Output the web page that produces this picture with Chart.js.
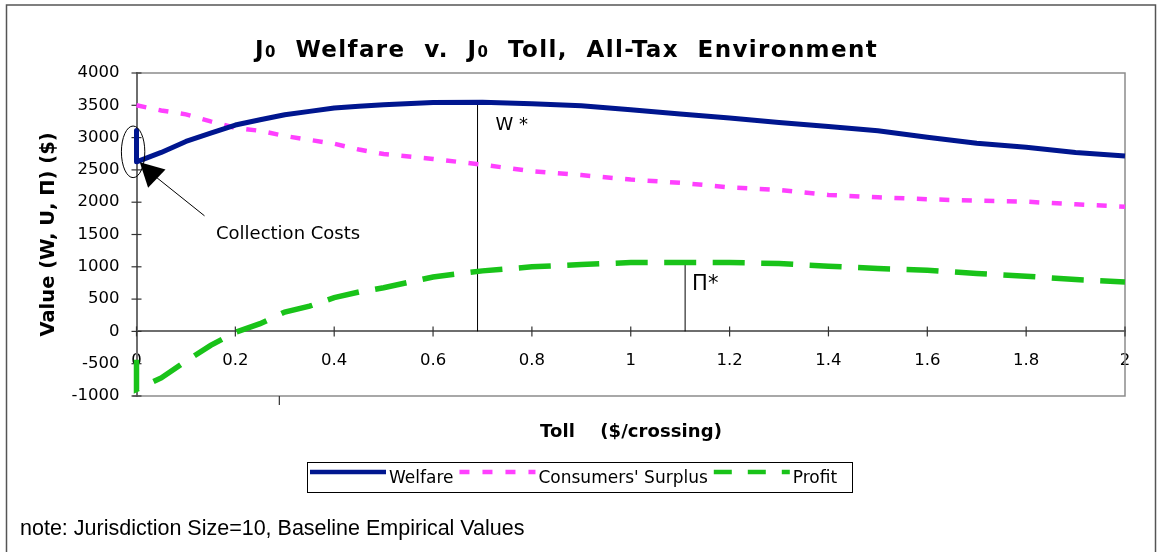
<!DOCTYPE html>
<html>
<head>
<meta charset="utf-8">
<title>J0 Welfare v. J0 Toll, All-Tax Environment</title>
<script src="https://cdn.jsdelivr.net/npm/chart.js@4.4.1/dist/chart.umd.min.js"></script>
<style>
  html, body { margin: 0; padding: 0; background: #fff; }
  #chart { display: block; }
</style>
</head>
<body>
<canvas id="chart" width="1158" height="552"></canvas>
<script>
// Values (toll in $/crossing, values in $)
// x = 0 appears twice: the jump there is the collection-cost drop
const tollValues    = [0, 0, 0.05, 0.1, 0.15, 0.2, 0.25, 0.3, 0.35, 0.4, 0.45, 0.5, 0.6, 0.7, 0.8, 0.9, 1.0, 1.1, 1.2, 1.3, 1.4, 1.5, 1.6, 1.7, 1.8, 1.9, 2.0, 2.025];
const welfareValues = [3110, 2625, 2770, 2940, 3070, 3195, 3276, 3354, 3406, 3457, 3485, 3510, 3545, 3548, 3525, 3494, 3432, 3365, 3303, 3235, 3173, 3106, 3007, 2914, 2852, 2770, 2717, 2691];
const surplusValues = [3500, 3500, 3420, 3360, 3250, 3150, 3105, 3025, 2965, 2905, 2815, 2745, 2670, 2580, 2480, 2420, 2350, 2300, 2230, 2190, 2112, 2076, 2045, 2024, 2008, 1967, 1930, 1925];
const profitValues  = [-440, -900, -720, -460, -217, -15, 119, 300, 390, 523, 610, 675, 843, 937, 999, 1035, 1066, 1068, 1066, 1051, 1009, 973, 947, 896, 854, 803, 766, 766];

const seriesNames = ['Welfare', "Consumers' Surplus", 'Profit'];
const xTickValues = [0, 0.2, 0.4, 0.6, 0.8, 1, 1.2, 1.4, 1.6, 1.8, 2];
const yTickValues = [-1000, -500, 0, 500, 1000, 1500, 2000, 2500, 3000, 3500, 4000];

// Optimum markers
const wStar  = { toll: 0.69, value: 3548 };
const piStar = { toll: 1.11, value: 1068 };

const SANS = '"Liberation Sans", Arial, Helvetica, sans-serif';
const GENEVA = '"DejaVu Sans", Verdana, sans-serif';

function toPoints(values) {
  return values.map((v, i) => ({ x: tollValues[i], y: v }));
}

function line(ctx, x1, y1, x2, y2) {
  ctx.beginPath();
  ctx.moveTo(x1, y1);
  ctx.lineTo(x2, y2);
  ctx.stroke();
}

// draw text runs spread (letter spacing) to a given width
function trackedText(ctx, runs, x, y, width) {
  ctx.letterSpacing = '0px';
  let natural = 0, chars = 0;
  const widths = runs.map(([t, f]) => {
    ctx.font = f;
    const w = ctx.measureText(t).width;
    natural += w;
    chars += t.length;
    return w;
  });
  const sp = (width - natural) / chars;
  ctx.letterSpacing = sp + 'px';
  let cx = x;
  runs.forEach(([t, f], i) => {
    ctx.font = f;
    ctx.fillText(t, cx, y);
    cx += widths[i] + sp * t.length;
  });
  ctx.letterSpacing = '0px';
}

const decor = {
  id: 'decor',
  beforeDraw(chart) {
    const ctx = chart.ctx;
    ctx.save();
    ctx.fillStyle = '#fff';
    ctx.fillRect(0, 0, chart.width, chart.height);
    // outer frame
    ctx.strokeStyle = '#555';
    ctx.lineWidth = 1.5;
    ctx.strokeRect(6.5, 5, 1149, 560);
    ctx.restore();
  },
  beforeDatasetsDraw(chart) {
    const { ctx, chartArea: a, scales: { x, y } } = chart;
    ctx.save();
    // plot frame (top, right, bottom)
    ctx.strokeStyle = '#8c8c8c';
    ctx.lineWidth = 1.5;
    ctx.beginPath();
    ctx.moveTo(a.left, a.top);
    ctx.lineTo(a.right, a.top);
    ctx.lineTo(a.right, a.bottom);
    ctx.lineTo(a.left - 4, a.bottom);
    ctx.stroke();

    // tick marks crossing the axes
    ctx.strokeStyle = '#333';
    ctx.lineWidth = 1.2;
    const y0 = y.getPixelForValue(0);
    x.ticks.forEach(t => {
      const px = x.getPixelForValue(t.value);
      line(ctx, px, y0 - 5, px, y0 + 5);
    });
    y.ticks.forEach(t => {
      const py = y.getPixelForValue(t.value);
      line(ctx, a.left - 5, py, a.left + 5, py);
    });
    // stray tick under the frame
    const sx = x.getPixelForValue(0.289);
    line(ctx, sx, a.bottom, sx, a.bottom + 9);

    // optimum drop lines
    ctx.strokeStyle = '#000';
    ctx.lineWidth = 1;
    const wx = x.getPixelForValue(wStar.toll);
    line(ctx, wx, y.getPixelForValue(wStar.value), wx, y0);
    const px = x.getPixelForValue(piStar.toll);
    line(ctx, px, y.getPixelForValue(piStar.value), px, y0);
    ctx.restore();
  },
  afterDatasetsDraw(chart) {
    const { ctx, scales: { x, y } } = chart;
    ctx.save();
    ctx.fillStyle = '#000';
    ctx.textBaseline = 'alphabetic';
    ctx.textAlign = 'left';

    // title
    trackedText(ctx, [
      ['J', 'bold 23px ' + GENEVA],
      ['0', 'bold 15px ' + GENEVA],
      ['  Welfare  v.  J', 'bold 23px ' + GENEVA],
      ['0', 'bold 15px ' + GENEVA],
      ['  Toll,  All-Tax  Environment', 'bold 23px ' + GENEVA]
    ], 255, 56.7, 623);

    // x axis title
    trackedText(ctx, [['Toll    ($/crossing)', 'bold 18px ' + GENEVA]], 540, 437, 182);

    // optimum labels
    const wx = x.getPixelForValue(wStar.toll);
    ctx.font = '18px ' + GENEVA;
    ctx.fillText('W *', wx + 18, y.getPixelForValue(wStar.value) + 28);
    const px = x.getPixelForValue(piStar.toll);
    ctx.font = '21px ' + GENEVA;
    ctx.fillText('Π*', px + 7, y.getPixelForValue(piStar.value) + 28);

    // collection costs callout
    const x0 = x.getPixelForValue(0);
    const tipY = y.getPixelForValue(welfareValues[1]);
    ctx.strokeStyle = '#000';
    ctx.lineWidth = 1;
    ctx.beginPath();
    ctx.ellipse(x0 - 3.4, tipY - 10, 11.7, 25.8, 0, 0, Math.PI * 2);
    ctx.stroke();
    line(ctx, x0 + 68, tipY + 54, x0 + 18, tipY + 14);
    ctx.beginPath();
    ctx.moveTo(x0 + 3.3, tipY + 0.5);
    ctx.lineTo(x0 + 29, tipY + 7.7);
    ctx.lineTo(x0 + 11.6, tipY + 26);
    ctx.closePath();
    ctx.fill();
    ctx.font = '18px ' + GENEVA;
    ctx.fillText('Collection Costs', 216, 239);

    // legend
    ctx.strokeStyle = '#000';
    ctx.lineWidth = 1;
    ctx.strokeRect(307.5, 462.5, 545, 30);
    let lx = 310;
    ctx.font = '17px ' + GENEVA;
    chart.data.datasets.forEach(ds => {
      ctx.strokeStyle = ds.borderColor;
      ctx.lineWidth = 4.5;
      ctx.setLineDash(ds.legendDash);
      line(ctx, lx, 472, lx + 76, 472);
      ctx.setLineDash([]);
      ctx.fillStyle = '#000';
      ctx.fillText(ds.label, lx + 79, 482.5);
      lx += 79 + ctx.measureText(ds.label).width + 6;
    });

    // note
    ctx.font = '21.5px ' + SANS;
    ctx.fillText('note: Jurisdiction Size=10, Baseline Empirical Values', 20, 535);
    ctx.restore();
  }
};

const chart = new Chart(document.getElementById('chart'), {
  type: 'line',
  data: {
    datasets: [
      {
        label: seriesNames[0],
        data: toPoints(welfareValues),
        borderColor: '#00168f',
        borderWidth: 5,
        borderJoinStyle: 'round',
        legendDash: []
      },
      {
        label: seriesNames[1],
        data: toPoints(surplusValues),
        borderColor: '#ff40ff',
        borderWidth: 4.5,
        borderDash: [10, 12.5],
        legendDash: [10, 13]
      },
      {
        label: seriesNames[2],
        data: toPoints(profitValues),
        borderColor: '#19c319',
        borderWidth: 5.5,
        borderDash: [32, 16.5],
        legendDash: [18, 16]
      }
    ]
  },
  options: {
    responsive: false,
    animation: false,
    devicePixelRatio: 1,
    layout: { padding: { top: 73, right: 33, bottom: 156, left: 0 } },
    elements: {
      point: { radius: 0, hoverRadius: 0 },
      line: { tension: 0, fill: false, borderCapStyle: 'butt' }
    },
    datasets: { line: { clip: false } },
    plugins: {
      legend: { display: false },
      title: { display: false },
      tooltip: { enabled: false }
    },
    scales: {
      x: {
        type: 'linear',
        min: 0,
        max: 2,
        position: { y: 0 },
        afterBuildTicks: s => { s.ticks = xTickValues.map(v => ({ value: v })); },
        ticks: {
          autoSkip: false,
          maxRotation: 0,
          padding: 19,
          color: '#000',
          font: { family: 'DejaVu Sans', size: 16.5 },
          callback: v => String(Number(v.toFixed(1)))
        },
        grid: { display: true, drawOnChartArea: false, drawTicks: false },
        border: { display: true, color: '#6e6e6e', width: 2 }
      },
      y: {
        type: 'linear',
        min: -1000,
        max: 4000,
        position: 'left',
        afterBuildTicks: s => { s.ticks = yTickValues.map(v => ({ value: v })); },
        afterFit: s => { s.width = 136.5; },
        ticks: {
          padding: 17,
          color: '#000',
          font: { family: 'DejaVu Sans', size: 16.5 },
          callback: v => String(v)
        },
        grid: { display: true, drawOnChartArea: false, drawTicks: false },
        border: { display: true, color: '#6e6e6e', width: 2 },
        title: {
          display: true,
          text: 'Value (W, U, Π) ($)',
          color: '#000',
          font: { family: 'DejaVu Sans', size: 19.5, weight: 'bold' },
          padding: { top: 37, bottom: 0 }
        }
      }
    }
  },
  plugins: [decor]
});
</script>
</body>
</html>
